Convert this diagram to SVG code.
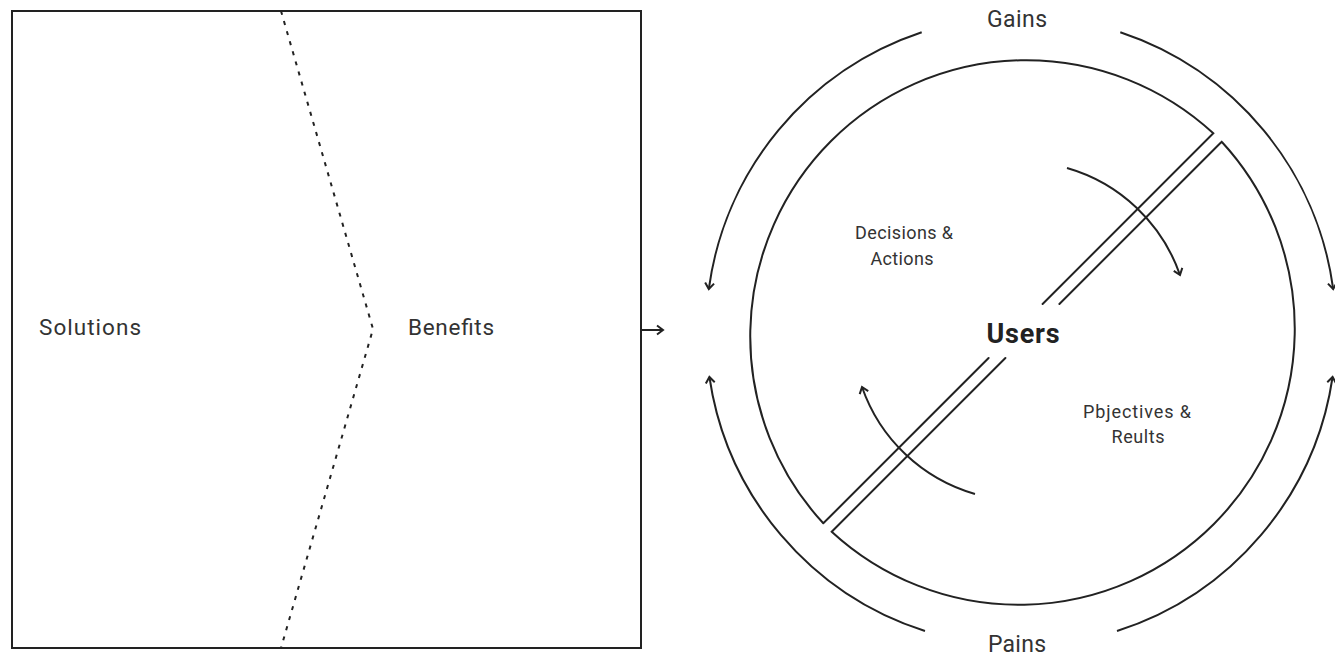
<svg xmlns="http://www.w3.org/2000/svg" width="1335" height="658" viewBox="0 0 1335 658">
  <style>
    .ln { fill: none; stroke: #222; stroke-width: 2; stroke-linecap: round; stroke-linejoin: miter; }
    .arr { fill: none; stroke: #222; stroke-width: 2; marker-end: url(#head); }
    .lbl { font-family: Roboto, "Liberation Sans", sans-serif; fill: #333; }
    .mid { text-anchor: middle; }
  </style>
  <defs>
    <marker id="head" markerUnits="userSpaceOnUse" markerWidth="14" markerHeight="14" refX="0" refY="0" viewBox="-8 -7 10 14" orient="auto" overflow="visible">
      <path d="M -6 -4.5 L 0 0 L -6 4.5" fill="none" stroke="#222" stroke-width="2" stroke-linejoin="miter"/>
    </marker>
  </defs>
  <rect width="1335" height="658" fill="#fff"/>

  <!-- value proposition box -->
  <g id="proposition">
    <rect x="12" y="11" width="629" height="637" class="ln"/>
    <path d="M 281 11 L 373 329 L 281 648" fill="none" stroke="#222" stroke-width="2" stroke-dasharray="4 6.5"/>
    <text class="lbl" x="39" y="335" font-size="22.5" textLength="102">Solutions</text>
    <text class="lbl" x="408" y="335" font-size="22.5" textLength="86">Benefits</text>
  </g>

  <!-- user circle split in two halves -->
  <g id="users">
    <path class="ln" d="M 823.3 523.3 A 276 276 0 0 1 1213.3 133.3 L 1042.6 304 M 988.6 358 L 823.3 523.3"/>
    <path class="ln" d="M 1221.7 141.7 A 276 276 0 0 1 831.7 531.7 L 1005.4 358 M 1059.4 304 L 1221.7 141.7"/>
    <text x="1023" y="343" class="mid" font-family="Roboto, 'Liberation Sans', sans-serif" font-weight="bold" font-size="27" fill="#222" textLength="73">Users</text>
  </g>

  <g id="decisions">
    <text class="lbl mid" x="904" y="239" font-size="18" textLength="98">Decisions &amp;</text>
    <text class="lbl mid" x="902" y="265" font-size="18" textLength="63">Actions</text>
  </g>

  <g id="objectives">
    <text class="lbl mid" x="1137" y="418" font-size="18" textLength="108">Pbjectives &amp;</text>
    <text class="lbl mid" x="1138" y="443" font-size="18" textLength="53">Reults</text>
  </g>

  <g id="gains">
    <text class="lbl mid" x="1017" y="27" font-size="23" textLength="60">Gains</text>
  </g>

  <g id="pains">
    <text class="lbl mid" x="1017" y="652" font-size="23" textLength="58">Pains</text>
  </g>

  <!-- connectors -->
  <g id="connectors">
    <path class="arr" d="M 641 330 L 663 330"/>
    <path class="arr" d="M 921.7 32.3 A 315 315 0 0 0 708.8 289"/>
    <path class="arr" d="M 1120.3 32.3 A 315 315 0 0 1 1333.2 289"/>
    <path class="arr" d="M 925 631 A 315 315 0 0 1 709.4 377"/>
    <path class="arr" d="M 1117 631 A 315 315 0 0 0 1332.6 377"/>
    <path class="arr" d="M 1067 168 A 169 169 0 0 1 1180 275"/>
    <path class="arr" d="M 975 494 A 169 169 0 0 1 862 387"/>
  </g>
</svg>
